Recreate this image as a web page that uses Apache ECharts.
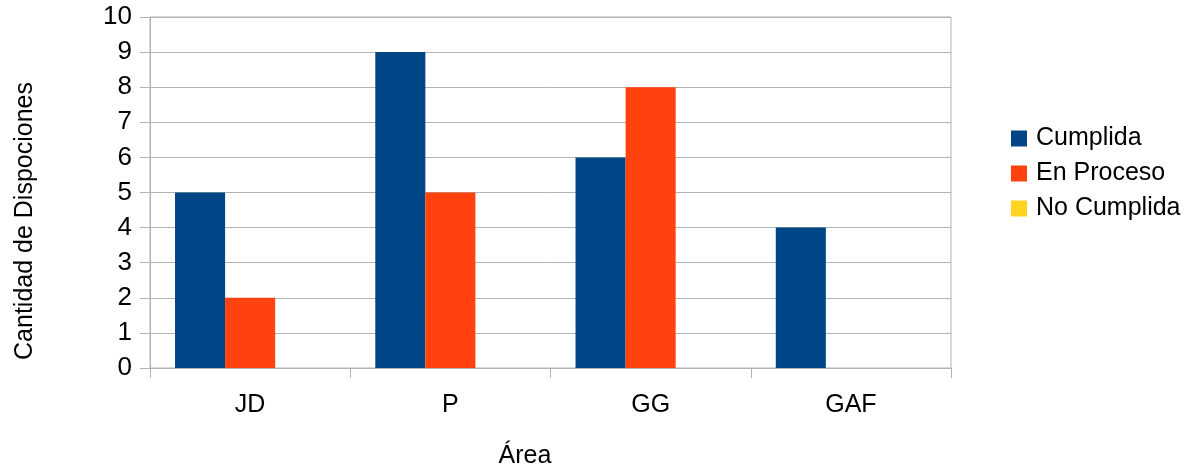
<!DOCTYPE html>
<html>
<head>
<meta charset="utf-8">
<script src="https://cdn.jsdelivr.net/npm/echarts@6/dist/echarts.min.js"></script>
<style>html,body{margin:0;padding:0;background:#fff}#c{width:1202px;height:472px}</style>
</head>
<body>
<div id="c"></div>
<script>
const categories = ['JD', 'P', 'GG', 'GAF'];
const seriesNames = ['Cumplida', 'En Proceso', 'No Cumplida'];
const cumplida = [5, 9, 6, 4];
const enProceso = [2, 5, 8, 0];
const noCumplida = [0, 0, 0, 0];
const xTitle = 'Área';
const yTitle = 'Cantidad de Dispociones';
const colors = ['#004586', '#ff420e', '#ffd320'];
const font = 'Liberation Sans, Arial, sans-serif';

const chart = echarts.init(document.getElementById('c'));
const values = [cumplida, enProceso, noCumplida];
chart.setOption({
  animation: false,
  textStyle: { fontFamily: font, color: '#000' },
  grid: { left: 150, right: 251, top: 17, bottom: 104, show: true, borderColor: '#b3b3b3', borderWidth: 1 },
  legend: {
    orient: 'vertical', left: 1006, top: 121, padding: [5, 5, 5, 5],
    itemWidth: 16, itemHeight: 16, itemGap: 10,
    icon: 'rect',
    textStyle: { fontSize: 25, color: '#000', fontFamily: font, padding: [0, 0, 0, 4] },
    data: seriesNames
  },
  graphic: [
    { type: 'text', x: 25, y: 221, rotation: Math.PI / 2,
      style: { text: yTitle, fontSize: 25, fontFamily: font, fill: '#000', align: 'center', verticalAlign: 'middle' } },
    { type: 'text', x: 525, y: 456,
      style: { text: xTitle, fontSize: 25, fontFamily: font, fill: '#000', align: 'center', verticalAlign: 'middle' } }
  ],
  xAxis: {
    type: 'category', data: categories,
    axisLine: { lineStyle: { color: '#b3b3b3' } },
    axisTick: { show: true, length: 10, lineStyle: { color: '#b3b3b3' } },
    axisLabel: { fontSize: 25, color: '#000', margin: 25, fontFamily: font },
    splitLine: { show: false }
  },
  yAxis: {
    type: 'value', min: 0, max: 10, interval: 1,
    axisLine: { show: true, lineStyle: { color: '#b3b3b3' } },
    axisTick: { show: true, length: 10, lineStyle: { color: '#b3b3b3' } },
    axisLabel: { fontSize: 26, color: '#000', margin: 18, fontFamily: font },
    splitLine: { lineStyle: { color: '#b3b3b3' } }
  },
  series: seriesNames.map((n, i) => ({
    name: n, type: 'bar', data: values[i],
    itemStyle: { color: colors[i] },
    barGap: '0%', barCategoryGap: '25%'
  }))
});
</script>
</body>
</html>
